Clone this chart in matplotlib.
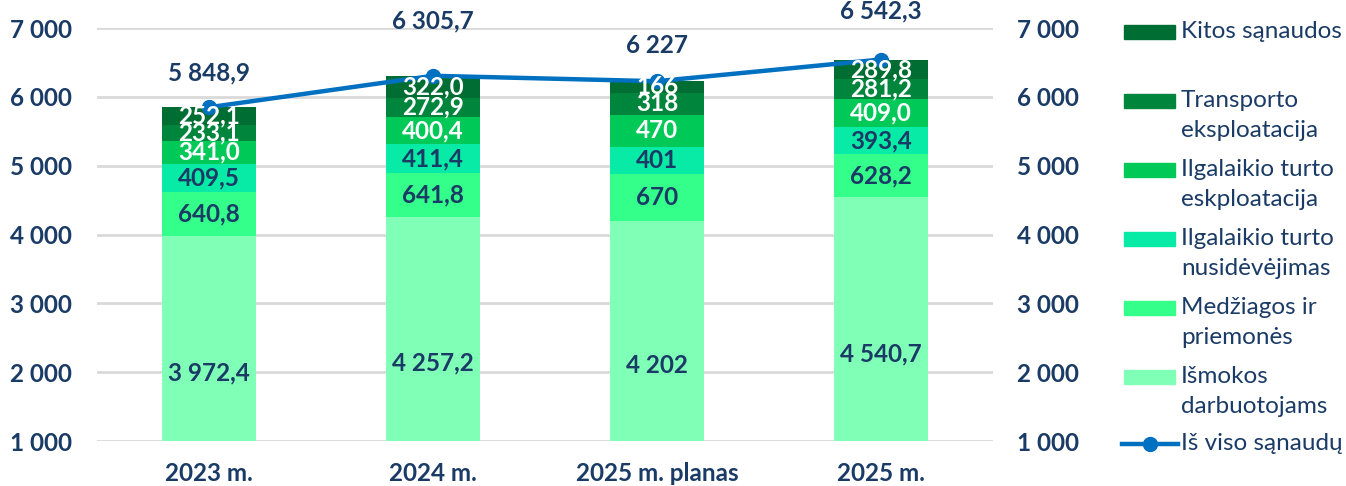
import matplotlib.pyplot as plt
from matplotlib.patches import Rectangle
from matplotlib.lines import Line2D
import numpy as np

categories = ["2023 m.", "2024 m.", "2025 m. planas", "2025 m."]
decimals = [1, 1, 0, 1]

# stacked from bottom to top
series_names = [
    "Išmokos\ndarbuotojams",
    "Medžiagos ir\npriemonės",
    "Ilgalaikio turto\nnusidėvėjimas",
    "Ilgalaikio turto\neskploatacija",
    "Transporto\neksploatacija",
    "Kitos sąnaudos",
]
ismokos = [3972.4, 4257.2, 4202, 4540.7]
medziagos = [640.8, 641.8, 670, 628.2]
nusidevejimas = [409.5, 411.4, 401, 393.4]
eksploatacija = [341.0, 400.4, 470, 409.0]
transportas = [233.1, 272.9, 318, 281.2]
kitos = [252.1, 322.0, 166, 289.8]
totals = [5848.9, 6305.7, 6227, 6542.3]
total_label = "Iš viso sąnaudų"

colors = ["#80FFB6", "#33FF8A", "#08EBA6", "#00C957", "#00853C", "#006E32"]
label_colors = ["#1A3B66", "#1A3B66", "#1A3B66", "white", "white", "white"]
navy = "#1A3B66"
line_color = "#0070C0"
total_offsets = [34, 55, 36, 49]  # px above point


def fmt(v, d):
    return f"{v:,.{d}f}".replace(",", " ").replace(".", ",")


plt.rcParams['font.family'] = ['Lato', 'DejaVu Sans']

fig = plt.figure(figsize=(13.46, 4.86), dpi=100)
ax = fig.add_axes([97 / 1346, 1 - 441 / 486, (993 - 97) / 1346, (441 - 28) / 486])
ax2 = ax.twinx()

x = np.arange(len(categories))
data = [ismokos, medziagos, nusidevejimas, eksploatacija, transportas, kitos]
bottom = np.zeros(len(categories))
for vals, col, lc in zip(data, colors, label_colors):
    vals = np.array(vals)
    ax.bar(x, vals, bottom=bottom, width=0.42, color=col, zorder=2)
    # labels go on ax2 so they sit above the total line
    for i, v in enumerate(vals):
        ax2.text(x[i], bottom[i] + v / 2, fmt(v, decimals[i]), ha='center', va='center',
                 color=lc, fontsize=17.5, fontweight='bold', zorder=8)
    bottom += vals

ax2.plot(x, totals, color=line_color, lw=3.2, marker='o', ms=10, zorder=5)
for i, t in enumerate(totals):
    ax2.annotate(fmt(t, decimals[i]), (x[i], t), xytext=(0, total_offsets[i] * 0.72),
                 textcoords='offset points', ha='center', va='center',
                 color=navy, fontsize=17.5, fontweight='bold')

for a in (ax, ax2):
    a.set_ylim(1000, 7000)
    a.set_xlim(-0.5, 3.5)
    a.set_yticks(range(1000, 7001, 1000))
    a.set_yticklabels([f"{v // 1000} 000" for v in range(1000, 7001, 1000)])
    a.tick_params(length=0, labelsize=17.5, labelcolor=navy)
    for s in a.spines.values():
        s.set_visible(False)
    for lab in a.get_yticklabels():
        lab.set_fontweight('bold')
ax.tick_params(axis='y', pad=18)
ax2.tick_params(axis='y', pad=17)
ax.set_xticks(x)
ax.set_xticklabels(categories, fontweight='bold')
ax.tick_params(axis='x', pad=15)
ax.grid(axis='y', color='#D9D9D9', lw=2, zorder=0)
ax.set_axisbelow(True)

# legend drawn manually
legend_y = [32, 101, 170, 239, 308, 377]
for name, col, yy in zip(series_names[::-1], colors[::-1], legend_y):
    fig.add_artist(Rectangle((1124 / 1346, 1 - (yy + 7) / 486), 51 / 1346, 14 / 486,
                             transform=fig.transFigure, color=col))
    fig.text(1181 / 1346, 1 - (yy - 11) / 486, name, ha='left', va='top',
             fontsize=17.5, color=navy, linespacing=1.55)
fig.add_artist(Line2D([1122 / 1346, 1178 / 1346], [1 - 444 / 486] * 2,
                      transform=fig.transFigure, color=line_color, lw=3.2))
fig.add_artist(Line2D([1150 / 1346], [1 - 444 / 486], marker='o', ms=10,
                      transform=fig.transFigure, color=line_color))
fig.text(1181 / 1346, 1 - 444 / 486, total_label, ha='left', va='center',
         fontsize=17.5, color=navy)

fig.savefig("out.png", dpi=100)
